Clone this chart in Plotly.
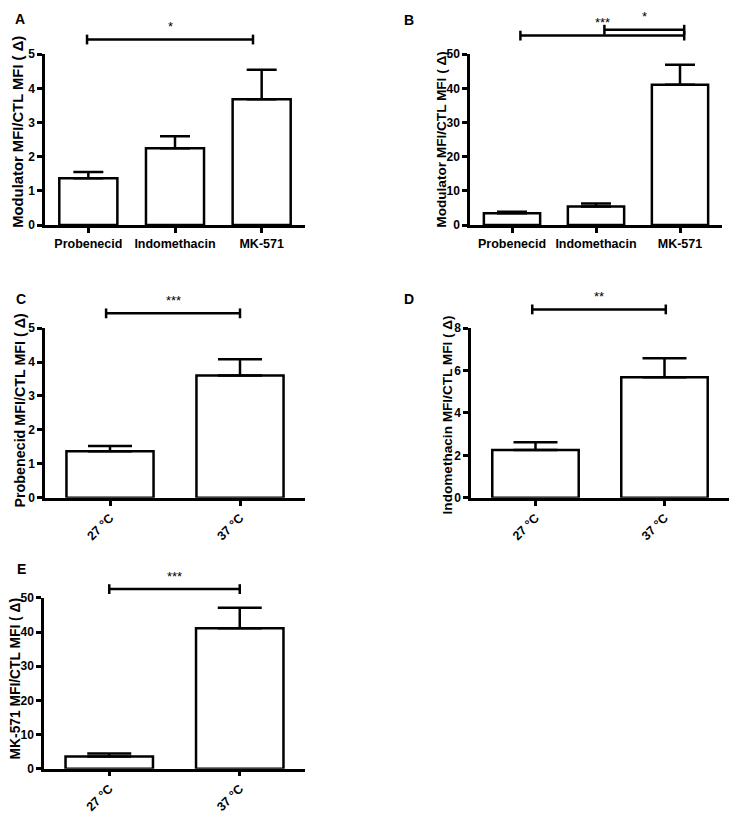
import plotly.graph_objects as go

# the page body keeps its default 8px margin, so the figure is drawn a bit smaller
PAD = 8
W, H = 737 - 2 * PAD, 822 - 2 * PAD

drugs = ["Probenecid", "Indomethacin", "MK-571"]
temps = ["27 °C", "37 °C"]

a_means = [1.37, 2.25, 3.68]
a_err = [0.18, 0.35, 0.87]
b_means = [3.45, 5.4, 41.1]
b_err = [0.45, 0.9, 5.8]
c_means = [1.37, 3.6]
c_err = [0.16, 0.48]
d_means = [2.25, 5.68]
d_err = [0.37, 0.9]
e_means = [3.6, 41.1]
e_err = [0.85, 6.0]

font = "Liberation Sans, Arial, sans-serif"


def px_x(p):
    return min(1.0, max(0.0, (p - PAD) / W))


def px_y(p):
    return min(1.0, max(0.0, 1 - (p - PAD) / H))


# per panel: categories, values, axis box in window pixels, brackets (from, to, px above top, stars),
# y title (text, x px, y centre px, font size)
panels = [
    dict(label="A", cats=drugs, means=a_means, err=a_err, ymax=5, dtick=1,
         ytitle=("Modulator MFI/CTL MFI ( Δ)", 18, 127, 14.8), xpx=(45, 305), ypx=(48, 222),
         brackets=[(-0.015, 1.9, 15, "*")], lab=(20, 12), rot=False),
    dict(label="B", cats=drugs, means=b_means, err=b_err, ymax=50, dtick=10,
         ytitle=("Modulator MFI/CTL MFI ( Δ)", 442, 135, 13.6), xpx=(470, 722), ypx=(48, 222),
         brackets=[(0.1, 2.05, 19, "***"), (1.1, 2.05, 25, "*")], lab=(409, 13), rot=False),
    dict(label="C", cats=temps, means=c_means, err=c_err, ymax=5, dtick=1,
         ytitle=("Probenecid MFI/CTL MFI ( Δ)", 19, 411, 14.3), xpx=(45, 305), ypx=(327, 500),
         brackets=[(-0.03, 1.0, 15, "***")], lab=(21, 297), rot=True),
    dict(label="D", cats=temps, means=d_means, err=d_err, ymax=8, dtick=2,
         ytitle=("Indomethacin MFI/CTL MFI ( Δ)", 447, 415, 13.6), xpx=(471, 729), ypx=(327, 500),
         brackets=[(-0.025, 1.01, 19, "**")], lab=(409, 297), rot=True),
    dict(label="E", cats=temps, means=e_means, err=e_err, ymax=50, dtick=10,
         ytitle=("MK-571 MFI/CTL MFI ( Δ)", 15, 685, 13.8), xpx=(44, 305), ypx=(602, 776),
         brackets=[(0.0, 1.0, 9, "***")], lab=(21, 572), rot=True),
]

fig = go.Figure()
shapes = []
annotations = []
layout = {}
lw = 2.5

for i, p in enumerate(panels):
    n = i + 1
    xa = "x" if n == 1 else "x%d" % n
    ya = "y" if n == 1 else "y%d" % n
    cap = 15 if len(p["cats"]) == 3 else 22
    fig.add_trace(go.Bar(
        x=p["cats"], y=p["means"], xaxis=xa, yaxis=ya, width=0.67,
        marker=dict(color="white", line=dict(color="black", width=lw)),
        error_y=dict(type="data", symmetric=False, array=p["err"],
                     arrayminus=[0] * len(p["err"]), color="black",
                     thickness=lw, width=cap),
        showlegend=False))
    x0, x1 = px_x(p["xpx"][0]), px_x(p["xpx"][1])
    ytop, ybot = px_y(p["ypx"][0]), px_y(p["ypx"][1])
    layout["xaxis" + ("" if n == 1 else str(n))] = dict(
        domain=[x0, x1], anchor=ya, range=[-0.5, len(p["cats"]) - 0.5],
        showline=True, linecolor="black", linewidth=lw, ticks="outside",
        ticklen=5, tickwidth=lw, tickcolor="black", showgrid=False,
        tickangle=-45 if p["rot"] else 0, fixedrange=True,
        tickfont=dict(family=font, size=12.5, color="black", weight="bold"))
    layout["yaxis" + ("" if n == 1 else str(n))] = dict(
        domain=[ybot, ytop], anchor=xa, range=[0, p["ymax"]], dtick=p["dtick"],
        showline=True, linecolor="black", linewidth=lw, ticks="outside",
        ticklen=5, tickwidth=lw, tickcolor="black", showgrid=False, zeroline=False,
        tickfont=dict(family=font, size=12, color="black", weight="bold"))
    # y-axis title placed as rotated text
    t, tx, tyc, tsize = p["ytitle"]
    annotations.append(dict(xref="paper", yref="paper", x=px_x(tx), y=px_y(tyc),
                            text=t, textangle=-90, showarrow=False,
                            xanchor="center", yanchor="middle",
                            font=dict(family=font, size=tsize, color="black", weight="bold")))
    # significance brackets
    ncat = len(p["cats"])
    for b0, b1, up, stars in p["brackets"]:
        bx0 = x0 + (b0 + 0.5) / ncat * (x1 - x0)
        bx1 = x0 + (b1 + 0.5) / ncat * (x1 - x0)
        by = ytop + up / H
        line = dict(color="black", width=lw)
        shapes.append(dict(type="line", xref="paper", yref="paper",
                           x0=bx0, x1=bx1, y0=by, y1=by, line=line))
        for bx in (bx0, bx1):
            shapes.append(dict(type="line", xref="paper", yref="paper",
                               x0=bx, x1=bx, y0=by - 5 / H, y1=by + 5 / H, line=line))
        annotations.append(dict(xref="paper", yref="paper", x=(bx0 + bx1) / 2,
                                y=by + 13 / H, text=stars, showarrow=False,
                                xanchor="center", yanchor="middle",
                                font=dict(family=font, size=13, color="black")))
    annotations.append(dict(xref="paper", yref="paper", x=px_x(p["lab"][0]),
                            y=px_y(p["lab"][1]), text=p["label"], showarrow=False,
                            xanchor="center", yanchor="middle",
                            font=dict(family=font, size=14, color="black", weight="bold")))

fig.update_layout(
    width=W, height=H, margin=dict(l=0, r=0, t=0, b=0),
    paper_bgcolor="white", plot_bgcolor="white",
    shapes=shapes, annotations=annotations, **layout)

fig.write_html("out.html")
